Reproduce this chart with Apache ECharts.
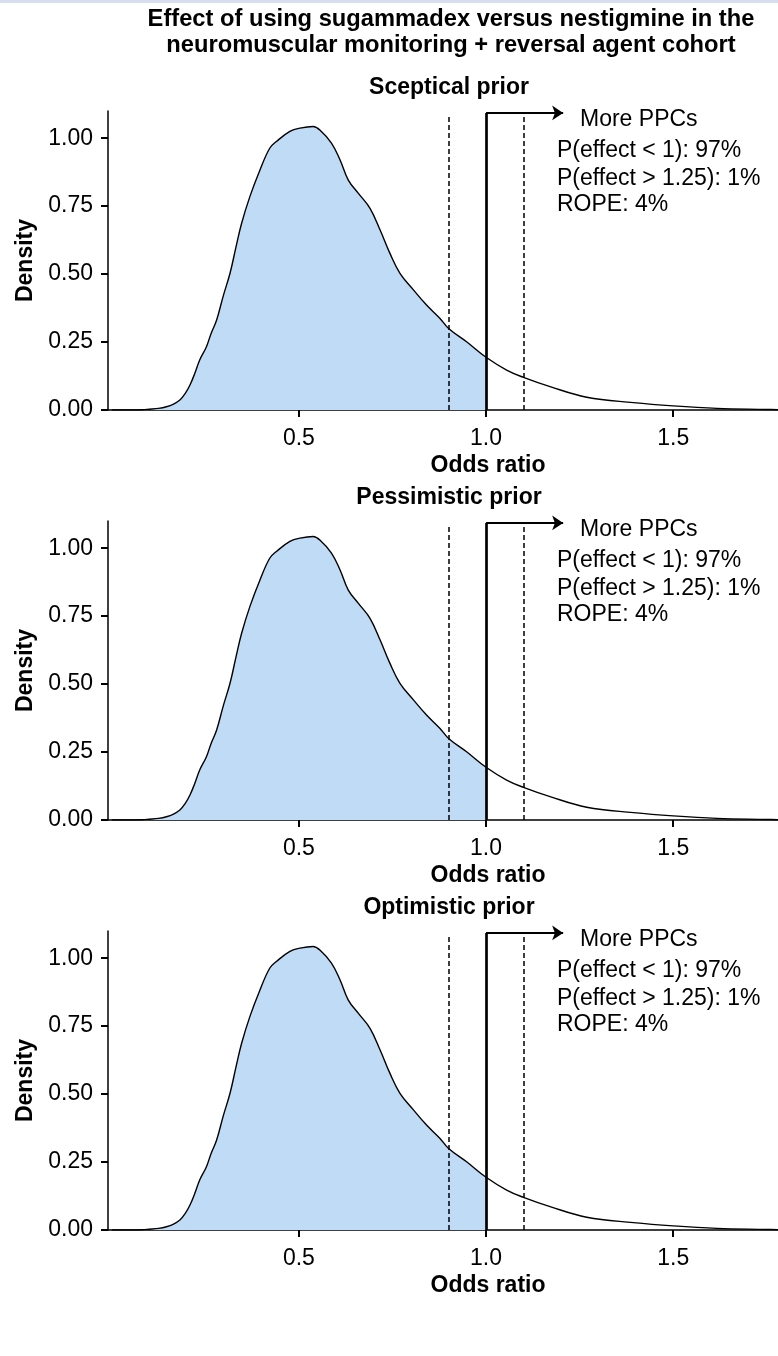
<!DOCTYPE html>
<html><head><meta charset="utf-8">
<script src="https://cdn.jsdelivr.net/npm/echarts@6/dist/echarts.min.js"></script>
<style>html,body{margin:0;padding:0;background:#fff}#c{width:778px;height:1356px}</style>
</head><body><div id="c"></div>
<script>
// ---- data ----
const oddsRatio = [0.00,0.05,0.08,0.10,0.125,0.146,0.165,0.182,0.196,0.209,0.222,0.235,0.253,0.265,0.28,0.298,0.316,0.332,0.347,0.369,0.396,0.422,0.44,0.476,0.503,0.538,0.556,0.587,0.61,0.632,0.659,0.69,0.717,0.743,0.77,0.806,0.841,0.877,0.90,0.948,1.0,1.055,1.10,1.171,1.269,1.394,1.50,1.617,1.75,1.78];
const density   = [0,0,0.001,0.003,0.006,0.012,0.022,0.037,0.06,0.092,0.135,0.184,0.233,0.28,0.33,0.42,0.503,0.60,0.687,0.785,0.883,0.963,0.988,1.025,1.037,1.043,1.03,0.982,0.92,0.846,0.797,0.742,0.662,0.577,0.503,0.442,0.386,0.337,0.30,0.251,0.194,0.147,0.12,0.086,0.047,0.027,0.015,0.006,0.002,0.001];
const mainTitle = ['Effect of using sugammadex versus nestigmine in the','neuromuscular monitoring + reversal agent cohort'];
const panelTitles = ['Sceptical prior','Pessimistic prior','Optimistic prior'];
const directionLabel = 'More PPCs';
const annotations = ['P(effect < 1): 97%','P(effect > 1.25): 1%','ROPE: 4%'];
const ropeBounds = [0.9, 1.1];
const nullEffect = 1.0;
const xTicks = [0.5, 1.0, 1.5];
const yTicks = [0, 0.25, 0.5, 0.75, 1.0];
const xName = 'Odds ratio';
const yName = 'Density';

// ---- chart ----
const FONT = '"Liberation Sans", Arial, sans-serif';
const BOLD = 'bold 23px ' + FONT;
const REG = '23px ' + FONT;
const chart = echarts.init(document.getElementById('c'), null, {renderer:'canvas'});
const curve = oddsRatio.map((x,i)=>[x, density[i]]);
const filled = curve.filter(p => p[0] <= nullEffect);
const PANEL = 410;
const grids=[], xAxes=[], yAxes=[], series=[], graphics=[];
graphics.push({type:'rect', shape:{x:0,y:0,width:778,height:3}, style:{fill:'#d6def0'}, silent:true});
mainTitle.forEach((t,k)=>graphics.push({type:'text', style:{text:t, x:451, y:19+26*k, font:'bold 23.7px '+FONT, fill:'#000', textAlign:'center', textVerticalAlign:'middle', verticalAlign:'middle'}}));
for (let i=0;i<3;i++){
  const off = PANEL*i;
  grids.push({left:108, right:0, top:111+off, height:299, containLabel:false});
  xAxes.push({type:'value', gridIndex:i, min:-0.01, max:1.78,
    axisLine:{show:true, onZero:false, lineStyle:{color:'#000', width:1.5}},
    axisTick:{show:true, customValues:xTicks, length:7, lineStyle:{color:'#000', width:2}},
    axisLabel:{customValues:xTicks, formatter:v=>v.toFixed(1), margin:17, fontFamily:FONT, fontSize:23, color:'#000'},
    splitLine:{show:false}});
  yAxes.push({type:'value', gridIndex:i, min:0, max:1.1,
    name:yName, nameLocation:'middle', nameGap:70, nameRotate:90,
    nameTextStyle:{fontFamily:FONT, fontWeight:'bold', fontSize:23, color:'#000'},
    axisLine:{show:true, onZero:false, lineStyle:{color:'#000', width:1.5}},
    axisTick:{show:true, customValues:yTicks, length:7, lineStyle:{color:'#000', width:2}},
    axisLabel:{customValues:yTicks, formatter:v=>v.toFixed(2), margin:15, fontFamily:FONT, fontSize:23, color:'#000'},
    splitLine:{show:false}});
  series.push({type:'line', xAxisIndex:i, yAxisIndex:i, data:filled, smooth:0.4, showSymbol:false, symbol:'none',
    lineStyle:{width:0}, areaStyle:{color:'#c0dbf5', opacity:1}, silent:true, z:1,
    markLine:{silent:true, symbol:['none','arrow'], symbolSize:11, animation:false, label:{show:false},
      lineStyle:{color:'#000', width:2, type:'solid'},
      data:[[{coord:[nullEffect,1.093]},{coord:[1.206,1.093]}]]}});
  series.push({type:'line', xAxisIndex:i, yAxisIndex:i, data:curve, smooth:0.4, showSymbol:false, symbol:'none',
    lineStyle:{color:'#000', width:1.4}, silent:true, z:3,
    markLine:{silent:true, symbol:['none','none'], animation:false, label:{show:false},
      data:[
        [{coord:[ropeBounds[0],0], lineStyle:{color:'#000', width:1.5, type:[5,3]}},{coord:[ropeBounds[0],1.078]}],
        [{coord:[ropeBounds[1],0], lineStyle:{color:'#000', width:1.5, type:[5,3]}},{coord:[ropeBounds[1],1.078]}],
        [{coord:[nullEffect,0], lineStyle:{color:'#000', width:2.7, type:'solid'}},{coord:[nullEffect,1.093]}]
      ]}});
  graphics.push({type:'text', style:{text:panelTitles[i], x:449, y:88+off, font:BOLD, fill:'#000', textAlign:'center', textVerticalAlign:'middle', verticalAlign:'middle'}});
  graphics.push({type:'text', style:{text:xName, x:488, y:466+off, font:BOLD, fill:'#000', textAlign:'center', textVerticalAlign:'middle', verticalAlign:'middle'}});
  graphics.push({type:'text', style:{text:directionLabel, x:580, y:120+off, font:REG, fill:'#000', textAlign:'left', textVerticalAlign:'middle', verticalAlign:'middle'}});
  const ys=[151,179,205];
  annotations.forEach((t,k)=>graphics.push({type:'text', style:{text:t, x:557, y:ys[k]+off, font:REG, fill:'#000', textAlign:'left', textVerticalAlign:'middle', verticalAlign:'middle'}}));
}
chart.setOption({animation:false, backgroundColor:'#fff', grid:grids, xAxis:xAxes, yAxis:yAxes, series:series, graphic:graphics});
</script></body></html>
